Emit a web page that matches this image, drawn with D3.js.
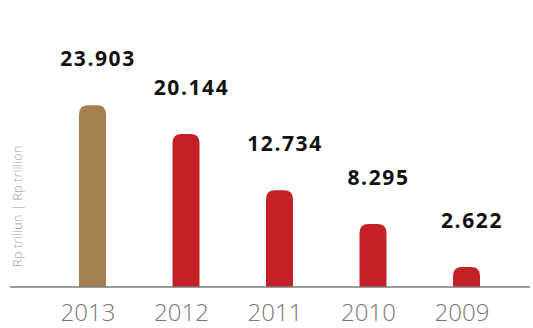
<!DOCTYPE html>
<html>
<head>
<meta charset="utf-8">
<script src="https://cdn.jsdelivr.net/npm/d3@7"></script>
<style>
  html, body { margin: 0; padding: 0; background: #fff; }
  svg { display: block; }
</style>
</head>
<body>
<svg id="chart" width="533" height="328"></svg>
<script>
// Yearly totals, Rp trillion
const years = ["2013", "2012", "2011", "2010", "2009"];
const values = [23.903, 20.144, 12.734, 8.295, 2.622];
const valueLabels = ["23.903", "20.144", "12.734", "8.295", "2.622"];
const highlightYear = "2013";

const svg = d3.select("#chart");
const baseY = 287;
const barW = 27;
const r = 9;

const x = d3.scalePoint().domain(years).range([92.5, 466.5]);
const y = d3.scaleLinear().domain([0, 20]).range([baseY, baseY - 152]);

// bar path with rounded top corners
function barPath(cx, top) {
  const l = cx - barW / 2, rr = cx + barW / 2;
  return `M${l},${baseY}V${top + r}Q${l},${top} ${l + r},${top}H${rr - r}Q${rr},${top} ${rr},${top + r}V${baseY}Z`;
}

const data = years.map((yr, i) => ({ year: yr, value: values[i], label: valueLabels[i] }));

svg.append("g").selectAll("path")
  .data(data)
  .join("path")
  .attr("d", d => barPath(x(d.year), y(d.value)))
  .attr("fill", d => d.year === highlightYear ? "#a4804f" : "#c42127");

// baseline axis
const axis = svg.append("g").attr("transform", `translate(0,${baseY})`)
  .call(d3.axisBottom(x).tickSize(0).tickPadding(0));
axis.select(".domain").remove();
axis.selectAll("text").remove();
axis.append("line")
  .attr("x1", 10).attr("x2", 530)
  .attr("stroke", "#7a7a7a").attr("stroke-width", 1.3);

// year labels
svg.append("g").selectAll("text")
  .data(data)
  .join("text")
  .attr("x", d => x(d.year) - 4.5)
  .attr("y", 321)
  .attr("text-anchor", "middle")
  .attr("font-family", "'Open Sans', sans-serif")
  .attr("font-weight", 300)
  .attr("font-size", 24)
  .attr("fill", "#777")
  .text(d => d.year);

// value labels
svg.append("g").selectAll("text")
  .data(data)
  .join("text")
  .attr("x", d => x(d.year) + 5.5)
  .attr("y", d => y(d.value) - 39)
  .attr("text-anchor", "middle")
  .attr("font-family", "'Open Sans', sans-serif")
  .attr("font-weight", 700)
  .attr("font-size", 21)
  .attr("letter-spacing", 1.6)
  .attr("fill", "#111")
  .text(d => d.label);

// unit title
svg.append("text")
  .attr("transform", "translate(21.5,267) rotate(-90)")
  .attr("text-anchor", "start")
  .attr("font-family", "'Open Sans', sans-serif")
  .attr("font-weight", 300)
  .attr("font-size", 13)
  .attr("fill", "#a0a0a0")
  .text("Rp triliun | Rp trillion");
</script>
</body>
</html>
